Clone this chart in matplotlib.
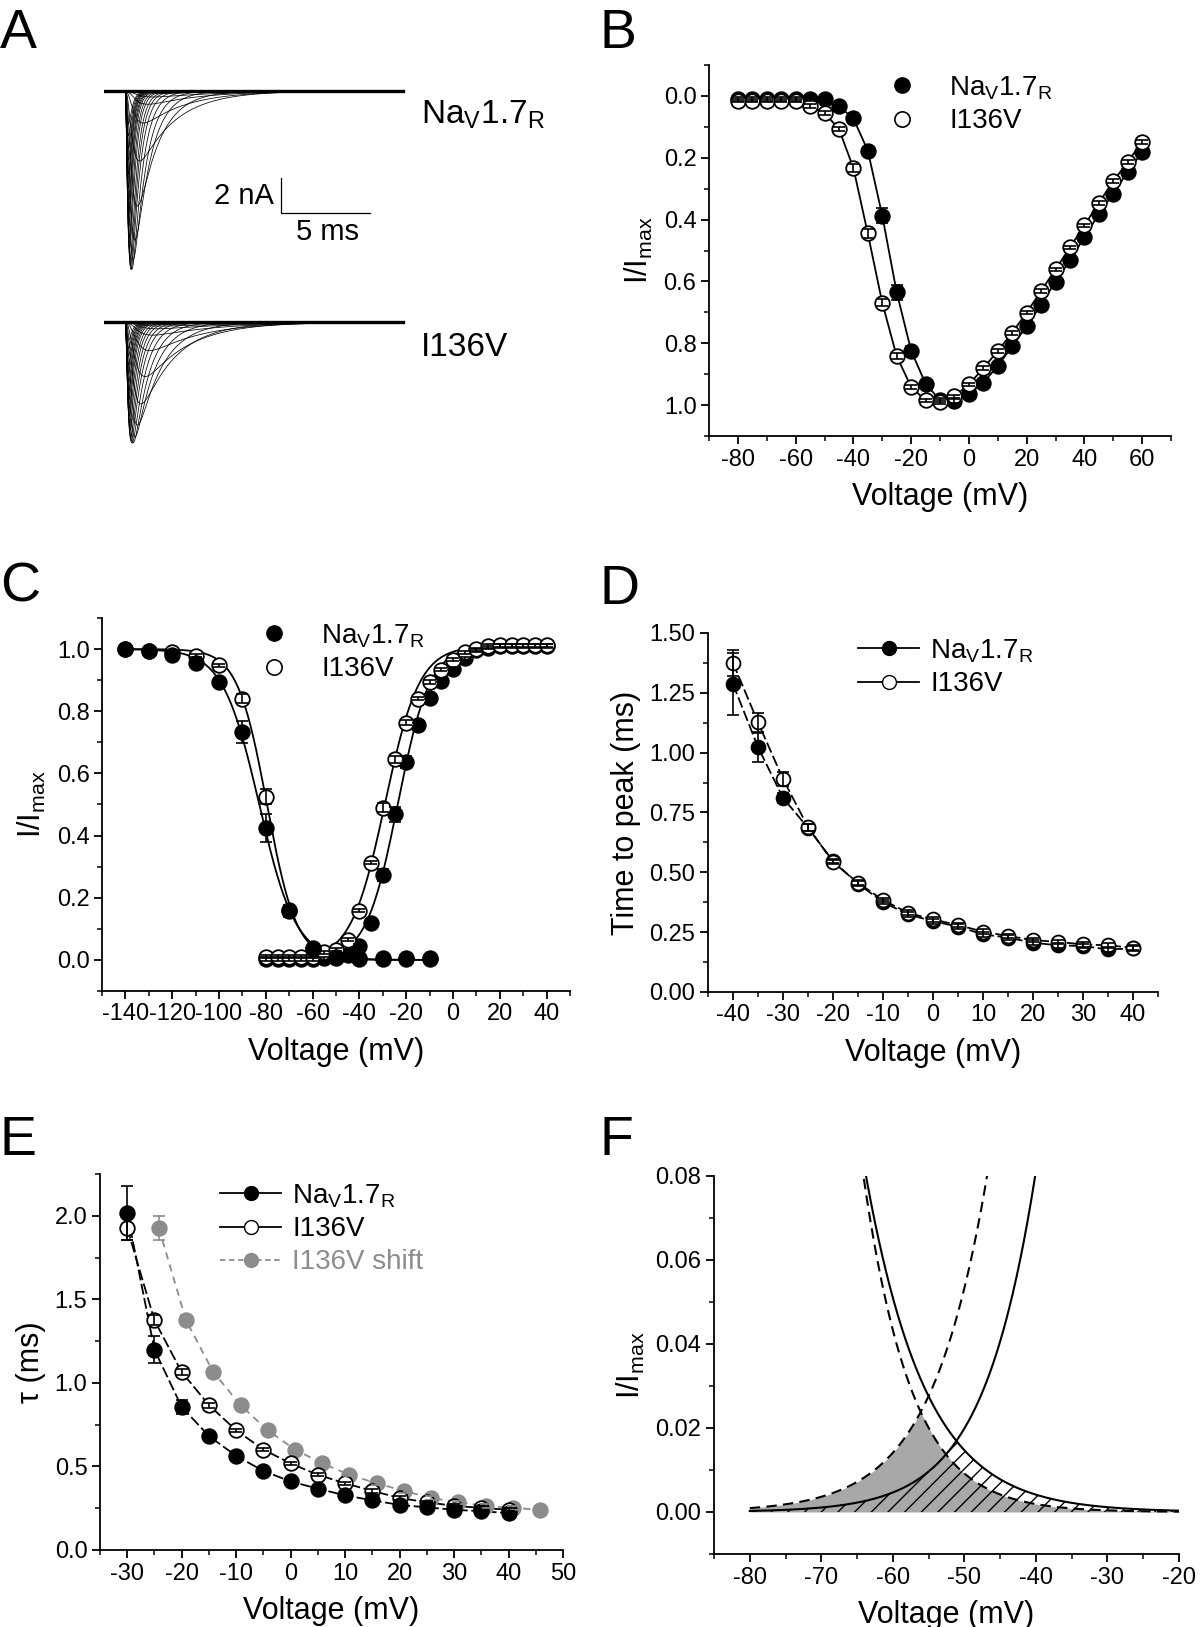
import numpy as np
import matplotlib.pyplot as plt
from matplotlib import font_manager
from matplotlib.ticker import MultipleLocator
from matplotlib.lines import Line2D

_names = {f.name for f in font_manager.fontManager.ttflist}
BASE = 'Liberation Sans Narrow' if 'Liberation Sans Narrow' in _names else 'Liberation Sans'
plt.rcParams['font.family'] = [BASE, 'DejaVu Sans']
plt.rcParams['mathtext.fontset'] = 'custom'
plt.rcParams['mathtext.rm'] = BASE
plt.rcParams['mathtext.it'] = BASE
plt.rcParams['axes.unicode_minus'] = False

NA = r'Na$_{\rm V}$1.7$_{\rm R}$'
MUT = 'I136V'
GREY = '#8c8c8c'

# ---------------- data ----------------
# B: normalised peak current vs test potential
v_iv = np.arange(-80, 61, 5)
iv_wt = [0.01, 0.01, 0.01, 0.01, 0.01, 0.01, 0.01, 0.033, 0.073, 0.177, 0.387, 0.635, 0.824, 0.931,
         0.984, 0.986, 0.965, 0.927, 0.874, 0.809, 0.745, 0.675, 0.601, 0.532, 0.457, 0.382, 0.316, 0.245, 0.183]
iv_mut = [0.015, 0.015, 0.015, 0.015, 0.015, 0.033, 0.055, 0.107, 0.233, 0.445, 0.669, 0.842, 0.941, 0.985,
          0.989, 0.972, 0.933, 0.881, 0.825, 0.766, 0.701, 0.631, 0.561, 0.490, 0.419, 0.346, 0.276, 0.214, 0.148]
iv_wt_err = [0.006] * 9 + [0.012, 0.025, 0.025, 0.015, 0.01] + [0.006] * 15
iv_mut_err = [0.006] * 8 + [0.012, 0.015, 0.012, 0.01] + [0.006] * 17

# C: steady-state inactivation and activation (conductance)
v_inact = np.arange(-140, -9, 10)
inact_wt = [1.0, 0.993, 0.982, 0.955, 0.894, 0.733, 0.424, 0.158, 0.039, 0.006, 0.004, 0.004, 0.003, 0.003]
inact_mut = [1.0, 0.995, 0.99, 0.979, 0.948, 0.84, 0.525, 0.16, 0.035, 0.01, 0.005, 0.005, 0.005, 0.005]
inact_wt_err = [0.005] * 5 + [0.035, 0.045, 0.02] + [0.005] * 6
inact_mut_err = [0.005] * 5 + [0.015, 0.025, 0.01] + [0.005] * 6
v_act = np.arange(-80, 41, 5)
act_wt = [0.003, 0.003, 0.003, 0.003, 0.003, 0.005, 0.008, 0.016, 0.046, 0.12, 0.273, 0.468, 0.637,
          0.757, 0.843, 0.898, 0.937, 0.971, 0.996, 1.005, 1.01, 1.01, 1.01, 1.01, 1.01]
act_mut = [0.01, 0.01, 0.01, 0.01, 0.01, 0.025, 0.033, 0.065, 0.158, 0.313, 0.49, 0.645, 0.763,
           0.84, 0.894, 0.934, 0.966, 0.99, 1.0, 1.01, 1.012, 1.012, 1.012, 1.012, 1.012]
act_wt_err = [0.005] * 10 + [0.02, 0.025, 0.02] + [0.005] * 12
act_mut_err = [0.005] * 10 + [0.015, 0.01, 0.008] + [0.005] * 12

# Boltzmann fit parameters [WT, I136V]
inact_vhalf = [-82.8, -79.5]
inact_k = [7.8, 6.3]
act_vhalf = [-23.5, -29.0]
act_k = [6.8, 7.3]

# D: time to peak (ms)
v_tp = np.arange(-40, 41, 5)
tp_wt = [1.287, 1.023, 0.811, 0.686, 0.547, 0.452, 0.376, 0.324, 0.296, 0.273, 0.241, 0.227, 0.206,
         0.195, 0.192, 0.178, 0.182]
tp_mut = [1.375, 1.127, 0.890, 0.689, 0.543, 0.456, 0.384, 0.331, 0.303, 0.280, 0.252, 0.234, 0.217,
          0.209, 0.199, 0.195, 0.185]
tp_wt_err = [0.13, 0.06, 0.02, 0.015] + [0.01] * 13
tp_mut_err = [0.055, 0.04, 0.03, 0.015] + [0.01] * 13

# E: fast inactivation time constant (ms)
v_tau = np.arange(-30, 41, 5)
tau_wt = [2.016, 1.198, 0.856, 0.682, 0.563, 0.473, 0.410, 0.367, 0.327, 0.297, 0.270, 0.255, 0.241, 0.232, 0.221]
tau_mut = [1.926, 1.374, 1.065, 0.867, 0.716, 0.601, 0.518, 0.450, 0.399, 0.354, 0.311, 0.286, 0.264, 0.252, 0.241]
tau_wt_err = [0.16, 0.08, 0.04, 0.015] + [0.01] * 11
tau_mut_err = [0.07, 0.03, 0.02, 0.015] + [0.01] * 11
shift_mv = 5.8

# A: example current families (peak amplitude in nA), slow kinetics below the D/E range
peak_na = [10.5, 7.1]
v_slow_tp, tp_slow = [-60, -50, -45], [2.2, 1.8, 1.55]
v_slow_tau, tau_slow = [-60, -50, -45, -40, -35], [6.0, 4.5, 3.6, 2.9, 2.4]

# ---------------- helpers ----------------
W, H = 1200, 1627
fig = plt.figure(figsize=(W / 100, H / 100), dpi=100)


def box(l, t, r, b):
    return fig.add_axes([l / W, 1 - b / H, (r - l) / W, (b - t) / H])


def style(ax):
    for s in ['top', 'right']:
        ax.spines[s].set_visible(False)
    for s in ['left', 'bottom']:
        ax.spines[s].set_linewidth(1.3)
    ax.tick_params(which='major', direction='out', length=6, width=1.3, labelsize=17, pad=3)
    ax.tick_params(which='minor', direction='out', length=3.5, width=1.1)


def series(ax, x, y, err, filled, color='k', ms=10.5, ls='-', line=True):
    if line:
        ax.plot(x, y, ls=ls, color=color, lw=1.3, zorder=1)
    ax.plot(x, y, 'o', ms=ms, mfc=color if filled else 'white', mec=color, mew=1.3, zorder=2)
    ax.errorbar(x, y, yerr=err, fmt='none', ecolor=color, elinewidth=1.2, capsize=ms * 0.42,
                capthick=1.2, zorder=3)


def boltz_inact(v, vh, k):
    return 1.0 / (1.0 + np.exp((v - vh) / k))


def boltz_act(v, vh, k):
    return 1.0 / (1.0 + np.exp((vh - v) / k))


def letter(x, y, s):
    fig.text(x / W, 1 - y / H, s, fontsize=40, va='baseline', ha='left')


# ---------------- A ----------------
axA = box(104, 60, 582, 460)
axA.set_xlim(0, 27)
axA.set_ylim(-23.2, 0)
axA.axis('off')
t = np.linspace(0, 16.9, 2000)
t_on = 1.2
tp_all_v = np.concatenate([v_slow_tp, v_tp, [60]])
tau_all_v = np.concatenate([v_slow_tau, v_tau, [60]])
u_grid = np.linspace(0.01, 12, 4000)
lhs = 3 * u_grid / np.expm1(u_grid)
for base, amp, iv, tps, taus in [(-1.8, peak_na[0], iv_wt, tp_wt, tau_wt),
                                 (-15.2, peak_na[1], iv_mut, tp_mut, tau_mut)]:
    tp_all = np.concatenate([tp_slow, tps, [0.18]])
    tau_all = np.concatenate([tau_slow, taus, [0.2]])
    for v, rel in zip(v_iv, iv):
        tpk = np.interp(v, tp_all_v, tp_all)
        tauh = np.interp(v, tau_all_v, tau_all)
        u = np.interp(tpk / tauh, lhs[::-1], u_grid[::-1])
        taum = tpk / u
        s = np.clip(t - t_on, 0, None)
        g = (1 - np.exp(-s / taum)) ** 3 * np.exp(-s / tauh)
        g = g / g.max()
        axA.plot(t, base - amp * rel * g, color='k', lw=0.55)
    axA.plot([t[0], t[-1]], [base, base], color='k', lw=2.4)
# scale bar 2 nA / 5 ms
axA.plot([10.0, 10.0, 15.0], [-6.87, -8.87, -8.87], color='k', lw=0.9)
axA.text(9.6, -7.9, '2 nA', fontsize=21, ha='right', va='center')
axA.text(12.6, -10.0, '5 ms', fontsize=21, ha='center', va='center')
axA.text(17.9, -3.2, NA, fontsize=24, ha='left', va='center')
axA.text(17.9, -16.7, MUT, fontsize=24, ha='left', va='center')
letter(0, 48, 'A')

# ---------------- B ----------------
axB = box(709, 65, 1171, 436)
style(axB)
series(axB, v_iv, iv_wt, iv_wt_err, True)
series(axB, v_iv, iv_mut, iv_mut_err, False)
axB.set_xlim(-90, 70)
axB.set_ylim(1.1, -0.1)
axB.xaxis.set_major_locator(MultipleLocator(20))
axB.xaxis.set_minor_locator(MultipleLocator(10))
axB.yaxis.set_major_locator(MultipleLocator(0.2))
axB.yaxis.set_minor_locator(MultipleLocator(0.1))
axB.yaxis.set_major_formatter(lambda v, p: f'{v:.1f}')
axB.set_xlabel('Voltage (mV)', fontsize=22, labelpad=8)
axB.set_ylabel(r'I/I$_{\rm max}$', fontsize=22, labelpad=6)
hB = [Line2D([], [], ls='none', marker='o', ms=11, mfc='k', mec='k'),
      Line2D([], [], ls='none', marker='o', ms=11, mfc='white', mec='k', mew=1.2)]
axB.legend(hB, [NA, MUT], loc='upper left', bbox_to_anchor=(888 / W, 1 - 74 / H),
           bbox_transform=fig.transFigure, frameon=False, fontsize=20, handlelength=1.0,
           handletextpad=1.2, labelspacing=0.25, borderpad=0, borderaxespad=0)
letter(600, 48, 'B')

# ---------------- C ----------------
axC = box(102, 618, 570, 991)
style(axC)
vv = np.linspace(-140, -10, 400)
va = np.linspace(-80, 40, 400)
for i in range(2):
    axC.plot(vv, boltz_inact(vv, inact_vhalf[i], inact_k[i]), color='k', lw=1.3, zorder=1)
    axC.plot(va, 1.01 * boltz_act(va, act_vhalf[i], act_k[i]), color='k', lw=1.3, zorder=1)
series(axC, v_act, act_wt, act_wt_err, True, line=False)
series(axC, v_act, act_mut, act_mut_err, False, line=False)
series(axC, v_inact, inact_mut, inact_mut_err, False, line=False)
series(axC, v_inact, inact_wt, inact_wt_err, True, line=False)
axC.set_xlim(-150, 50)
axC.set_ylim(-0.1, 1.1)
axC.xaxis.set_minor_locator(MultipleLocator(10))
axC.yaxis.set_minor_locator(MultipleLocator(0.1))
axC.set_xticks(np.arange(-140, 41, 20))
axC.set_yticks(np.arange(0, 1.01, 0.2))
axC.yaxis.set_major_formatter(lambda v, p: f'{v:.1f}')
axC.set_xlabel('Voltage (mV)', fontsize=22, labelpad=8)
axC.set_ylabel(r'I/I$_{\rm max}$', fontsize=22, labelpad=6)
axC.legend(hB, [NA, MUT], loc='upper left', bbox_to_anchor=(260 / W, 1 - 622 / H),
           bbox_transform=fig.transFigure, frameon=False, fontsize=20, handlelength=1.0,
           handletextpad=1.2, labelspacing=0.25, borderpad=0, borderaxespad=0)
letter(0, 602, 'C')

# ---------------- D ----------------
axD = box(708, 633, 1158, 992)
style(axD)
series(axD, v_tp, tp_wt, tp_wt_err, True, ms=10, ls=(0, (6, 2)))
series(axD, v_tp, tp_mut, tp_mut_err, False, ms=10, ls=(0, (6, 2)))
axD.set_xlim(-45, 45)
axD.set_ylim(0, 1.5)
axD.xaxis.set_major_locator(MultipleLocator(10))
axD.xaxis.set_minor_locator(MultipleLocator(5))
axD.yaxis.set_major_locator(MultipleLocator(0.25))
axD.yaxis.set_minor_locator(MultipleLocator(0.125))
axD.yaxis.set_major_formatter(lambda v, p: f'{v:.2f}')
axD.set_xlabel('Voltage (mV)', fontsize=22, labelpad=8)
axD.set_ylabel('Time to peak (ms)', fontsize=22, labelpad=6)
hD = [Line2D([], [], color='k', lw=1.3, marker='o', ms=10, mfc='k', mec='k'),
      Line2D([], [], color='k', lw=1.3, marker='o', ms=10, mfc='white', mec='k')]
axD.legend(hD, [NA, MUT], loc='upper left', bbox_to_anchor=(858 / W, 1 - 637 / H),
           bbox_transform=fig.transFigure, frameon=False, fontsize=20, handlelength=2.2,
           handletextpad=0.4, labelspacing=0.25, borderpad=0, borderaxespad=0)
letter(600, 604, 'D')

# ---------------- E ----------------
axE = box(100, 1174, 563, 1550)
style(axE)
series(axE, v_tau + shift_mv, tau_mut, tau_mut_err, True, color=GREY, ms=10.5, ls=(0, (4, 3)))
series(axE, v_tau, tau_mut, tau_mut_err, False, ms=10.5, ls=(0, (6, 2)))
series(axE, v_tau, tau_wt, tau_wt_err, True, ms=10.5, ls=(0, (6, 2)))
axE.set_xlim(-35, 50)
axE.set_ylim(0, 2.25)
axE.xaxis.set_major_locator(MultipleLocator(10))
axE.xaxis.set_minor_locator(MultipleLocator(5))
axE.yaxis.set_major_locator(MultipleLocator(0.5))
axE.yaxis.set_minor_locator(MultipleLocator(0.25))
axE.yaxis.set_major_formatter(lambda v, p: f'{v:.1f}')
axE.set_xlabel('Voltage (mV)', fontsize=22, labelpad=8)
axE.set_ylabel('τ (ms)', fontsize=22, labelpad=6)
hE = hD + [Line2D([], [], color=GREY, lw=1.3, ls=(0, (3, 2)), marker='o', ms=10, mfc=GREY, mec=GREY)]
legE = axE.legend(hE, [NA, MUT, 'I136V shift'], loc='upper left', bbox_to_anchor=(220 / W, 1 - 1182 / H),
                  bbox_transform=fig.transFigure, frameon=False, fontsize=20, handlelength=2.2,
                  handletextpad=0.4, labelspacing=0.25, borderpad=0, borderaxespad=0)
legE.get_texts()[2].set_color(GREY)
letter(0, 1155, 'E')

# ---------------- F ----------------
axF = box(714, 1176, 1179, 1554)
style(axF)
vf = np.linspace(-80, -20, 800)
inact_f = [boltz_inact(vf, inact_vhalf[i], inact_k[i]) for i in range(2)]
act_f = [boltz_act(vf, act_vhalf[i], act_k[i]) for i in range(2)]
axF.fill_between(vf, 0, np.minimum(inact_f[1], act_f[1]), color='#a8a8a8', lw=0, zorder=1)
axF.fill_between(vf, 0, np.minimum(inact_f[0], act_f[0]), facecolor='none', edgecolor='k',
                 hatch='//', lw=0, zorder=2)
for i, ls in [(0, '-'), (1, (0, (5, 3)))]:
    axF.plot(vf, inact_f[i], color='k', lw=1.5, ls=ls, zorder=3)
    axF.plot(vf, act_f[i], color='k', lw=1.5, ls=ls, zorder=3)
axF.set_xlim(-85, -20)
axF.set_ylim(-0.01, 0.08)
axF.xaxis.set_minor_locator(MultipleLocator(5))
axF.set_xticks(np.arange(-80, -19, 10))
axF.set_yticks(np.arange(0, 0.081, 0.02))
axF.yaxis.set_minor_locator(MultipleLocator(0.01))
axF.yaxis.set_major_formatter(lambda v, p: f'{v:.2f}')
axF.set_xlabel('Voltage (mV)', fontsize=22, labelpad=8)
axF.set_ylabel(r'I/I$_{\rm max}$', fontsize=22, labelpad=6)
letter(600, 1155, 'F')

fig.savefig('out.png', dpi=100)
